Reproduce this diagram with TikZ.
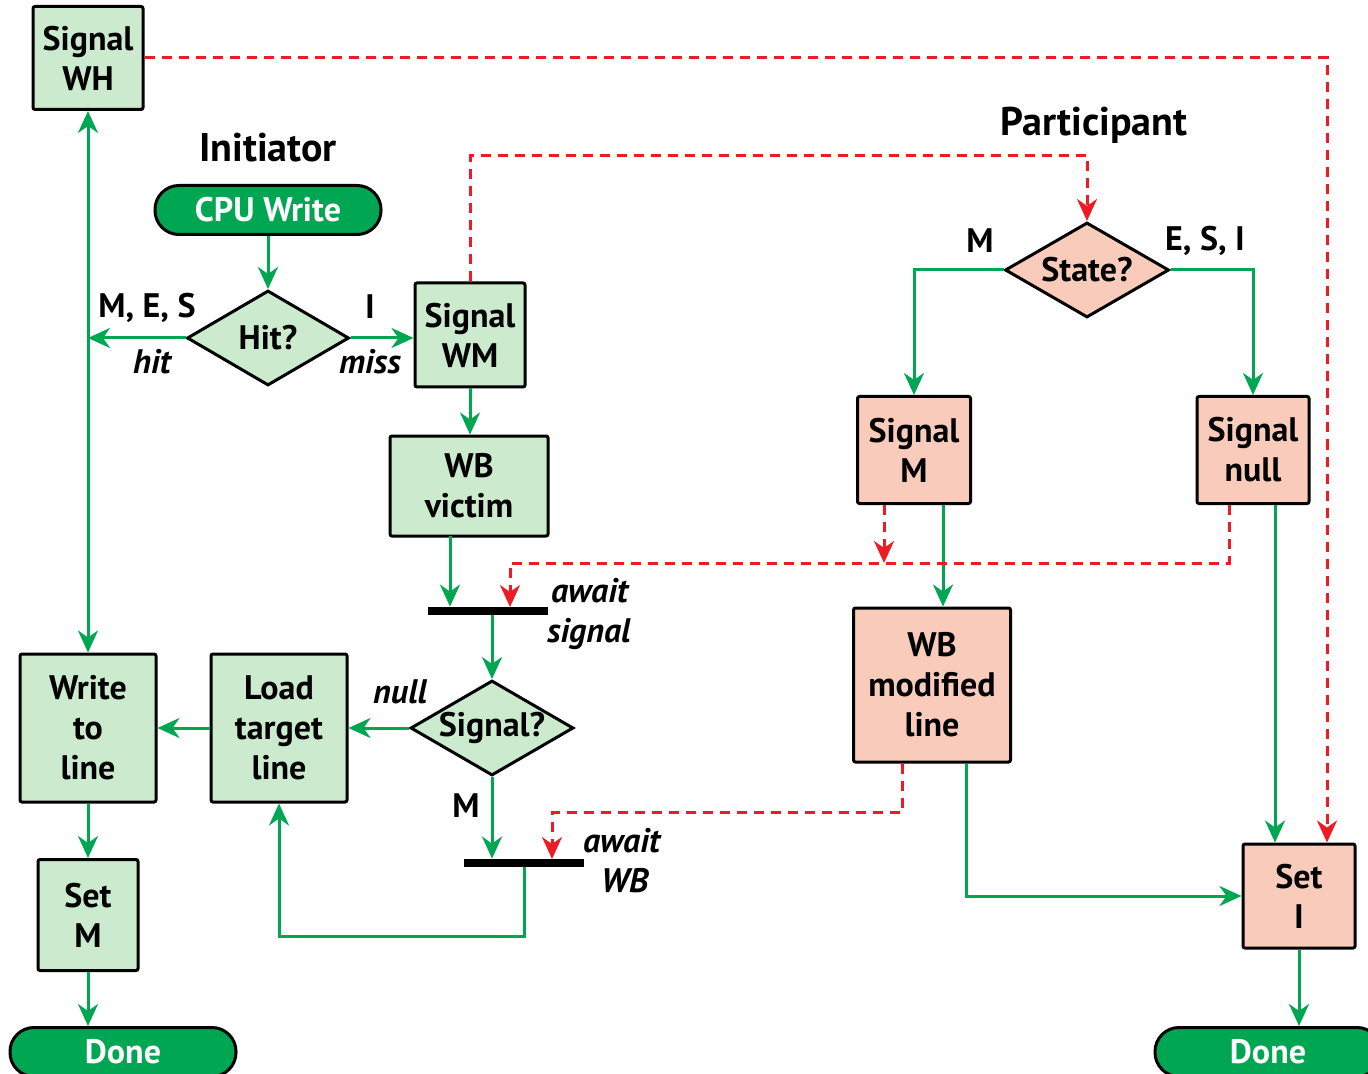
\documentclass[tikz,border=0pt]{standalone}
\usepackage{fontspec}
\setmainfont{PT Sans}
\usetikzlibrary{shapes.geometric,arrows.meta}
\definecolor{boxgreen}{HTML}{CCEACE}
\definecolor{boxpink}{HTML}{F8CBBA}
\definecolor{flowgreen}{HTML}{00A651}
\definecolor{flowred}{HTML}{ED1C24}
\begin{document}
\begin{tikzpicture}[x=0.5pt,y=-0.5pt,
  every node/.style={font=\fontsize{17}{20}\selectfont\bfseries, align=center},
  gbox/.style={draw=black, line width=1.5pt, fill=boxgreen, rounded corners=1pt, inner sep=0pt},
  pbox/.style={draw=black, line width=1.5pt, fill=boxpink, rounded corners=1pt, inner sep=0pt},
  gdia/.style={diamond, draw=black, line width=1.5pt, fill=boxgreen, inner sep=0pt, minimum width=81pt, minimum height=47.5pt},
  pdia/.style={diamond, draw=black, line width=1.5pt, fill=boxpink, inner sep=0pt, minimum width=82pt, minimum height=47.5pt},
  pill/.style={draw=black, line width=1.5pt, fill=flowgreen, text=white, rounded corners=12pt, inner sep=0pt, minimum width=113pt, minimum height=24.5pt},
  syncbar/.style={fill=black, inner sep=0pt, minimum width=60pt, minimum height=4pt},
  heading/.style={font=\fontsize{20}{24}\selectfont\bfseries},
  lbl/.style={font=\fontsize{17}{20}\selectfont\bfseries},
  ilbl/.style={font=\fontsize{17}{20}\selectfont\bfseries\itshape, align=left},
  tip/.style={-{Stealth[length=11pt,width=10pt,inset=3.5pt]}},
  garrow/.style={draw=flowgreen, line width=1.5pt, tip},
  rarrow/.style={draw=flowred, line width=1.5pt, dash pattern=on 5pt off 3.5pt, tip},
]
\useasboundingbox (0,0) rectangle (1368,1074);

% ---- initiator side ----
\node[gbox, minimum width=55pt, minimum height=51.5pt] (wh) at (88,58) {Signal\\WH};
\node[heading] (init) at (268,148) {Initiator};
\node[pill] (cpu) at (268,210) {CPU Write};
\node[gdia] (hit) at (268,338) {\makebox[0pt]{Hit?}};
\node[gbox, minimum width=55pt, minimum height=52pt] (wm) at (470,335) {Signal\\WM};
\node[gbox, minimum width=79pt, minimum height=50pt] (victim) at (469,486) {WB\\victim};
\node[syncbar] (bar1) at (488,611) {};
\node[gdia, minimum width=81.5pt] (sig) at (492,728) {\makebox[0pt]{Signal?}};
\node[gbox, minimum width=68pt, minimum height=74pt] (load) at (279,728) {Load\\target\\line};
\node[gbox, minimum width=68pt, minimum height=74pt] (write) at (88,728) {Write\\to\\line};
\node[gbox, minimum width=50pt, minimum height=55.5pt] (setm) at (88,915) {Set\\M};
\node[pill] (done1) at (123,1052) {Done};
\node[syncbar] (bar2) at (524,863) {};

% ---- participant side ----
\node[heading] (part) at (1094,125) {Participant};
\node[pdia] (state) at (1087,270) {\makebox[0pt]{State?}};
\node[pbox, minimum width=56.5pt, minimum height=53.5pt] (sm) at (914,450) {Signal\\M};
\node[pbox, minimum width=56pt, minimum height=53.5pt] (snull) at (1253,450) {Signal\\null};
\node[pbox, minimum width=78.5pt, minimum height=77pt] (wbm) at (932,685) {WB\\modified\\line};
\node[pbox, minimum width=56pt, minimum height=52pt] (seti) at (1299,896) {Set\\I};
\node[pill] (done2) at (1268,1052) {Done};

% ---- branch labels ----
\node[lbl] (lmes) at (147,308) {M, E, S};
\node[ilbl] (lhit) at (152,362) {hit};
\node[lbl] (li) at (370,307) {I};
\node[ilbl] (lmiss) at (370,362) {miss};
\node[ilbl] (lnull) at (400,692) {null};
\node[lbl] (lm1) at (466,806) {M};
\node[ilbl, anchor=west] (lawait1) at (540,614) {\hspace*{2pt}await\\signal};
\node[ilbl, anchor=west] (lawait2) at (576,861) {await\\\hspace*{9pt}WB};
\node[lbl] (lm2) at (980,241) {M};
\node[lbl] (lesi) at (1205,241) {E, S, I};

% ---- helper points for bends and offsets ----
\coordinate (redtop) at (700,156);
\coordinate (redlane) at (880,563);
\coordinate (redlane2) at (700,812);
\coordinate (await1) at (510,607);
\coordinate (await2) at (552,859);
\coordinate (victimout) at (450,536);
\coordinate (loopB) at (279,936);
\coordinate (smred) at ([xshift=-15pt]sm.south);
\coordinate (smgreen) at ([xshift=14.5pt]sm.south);
\coordinate (nullred) at ([xshift=-12pt]snull.south);
\coordinate (gin) at ([xshift=-12pt]seti.north);
\coordinate (rlane) at ([xshift=14pt]seti.north);
\coordinate (wbred) at ([xshift=-15pt]wbm.south);
\coordinate (wbgreen) at ([xshift=17pt]wbm.south);

% ---- initiator flow ----
\draw[garrow] (cpu.south) -- (hit.north);
\draw[garrow] (hit.west) -- (hit.west -| wh.south);
\draw[garrow, {Stealth[length=11pt,width=10pt,inset=3.5pt]}-{Stealth[length=11pt,width=10pt,inset=3.5pt]}] (wh.south) -- (write.north);
\draw[garrow] (hit.east) -- (hit.east -| wm.west);
\draw[garrow] (wm.south) -- (wm.south |- victim.north);
\draw[garrow] (victimout) -- (victimout |- bar1.north);
\draw[garrow] (bar1.south -| sig.north) -- (sig.north);
\draw[garrow] (sig.west) -- (load.east);
\draw[garrow] (load.west) -- (write.east);
\draw[garrow] (write.south) -- (setm.north);
\draw[garrow] (setm.south) -- (setm.south |- done1.north);
\draw[garrow] (sig.south) -- (sig.south |- bar2.north);
\draw[garrow] (bar2.south) |- (loopB) -- (load.south);

% ---- participant flow ----
\draw[garrow] (state.west) -| (sm.north);
\draw[garrow] (state.east) -| (snull.north);
\draw[garrow] (smgreen) -- (smgreen |- wbm.north);
\draw[garrow] (snull.south -| gin) -- (gin);
\draw[garrow] (wbgreen) |- (seti.west);
\draw[garrow] (seti.south) -- (seti.south |- done2.north);

% ---- coherence messages ----
\draw[rarrow] (wm.north) |- (redtop) -| (state.north);
\draw[rarrow] (wh.east) -| (rlane);
\draw[rarrow] (smred) -- (smred |- redlane);
\draw[rarrow] (nullred) |- (redlane) -| (await1);
\draw[rarrow] (wbred) |- (redlane2) -| (await2);
\end{tikzpicture}
\end{document}
